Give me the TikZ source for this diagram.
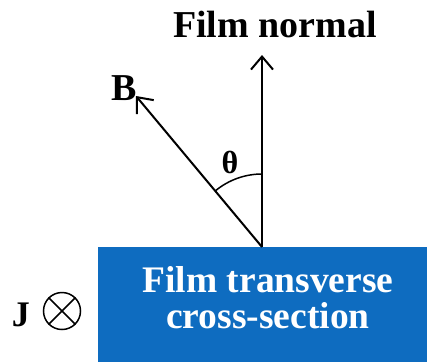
\documentclass[tikz,border=0pt]{standalone}
\usepackage{fontspec}
\setmainfont{Liberation Serif}
\usetikzlibrary{arrows.meta}
\definecolor{filmblue}{RGB}{14,108,192}
\begin{document}
\begin{tikzpicture}[x=1pt,y=-1pt,
  vec/.style={line width=2pt,-{Straight Barb[length=13pt,width=22pt,line width=2pt]}},
  lbl/.style={font=\bfseries\fontsize{38}{42}\selectfont,inner sep=0pt},
  filmtxt/.style={font=\bfseries\fontsize{37.5}{40}\selectfont,text=white,inner sep=0pt,anchor=base}]
\useasboundingbox (0,0) rectangle (427,362);
\fill[white] (0,0) rectangle (427,362);
\node[fill=filmblue,minimum width=329pt,minimum height=115pt,anchor=north west,inner sep=0pt] (film) at (98,247) {};
\node[filmtxt] (ftxt1) at (268,292) {Film transverse};
\node[filmtxt] (ftxt2) at (268,328) {cross-section};
\coordinate (o) at (262,247);
\coordinate (ntip) at (262,55);
\coordinate (btip) at (136,96);
\draw[vec] (o) -- (ntip);
\draw[vec] (o) -- (btip);
\draw[line width=1.5pt] (262,174) arc[start angle=90,end angle=129.5,radius=73pt];
\node[lbl] (fn) at (275,24) {Film normal};
\node[lbl] (b) at (124,88) {B};
\node[font=\bfseries\fontsize{32}{34}\selectfont,inner sep=0pt] (th) at (230,162) {θ};
\node[font=\bfseries\fontsize{36}{38}\selectfont,inner sep=0pt] (j) at (21,315) {J};
\node[draw,circle,line width=1.5pt,minimum size=37pt,inner sep=0pt] (cross) at (62,311) {};
\draw[line width=1.5pt] (cross.45) -- (cross.225) (cross.135) -- (cross.315);
\end{tikzpicture}
\end{document}
